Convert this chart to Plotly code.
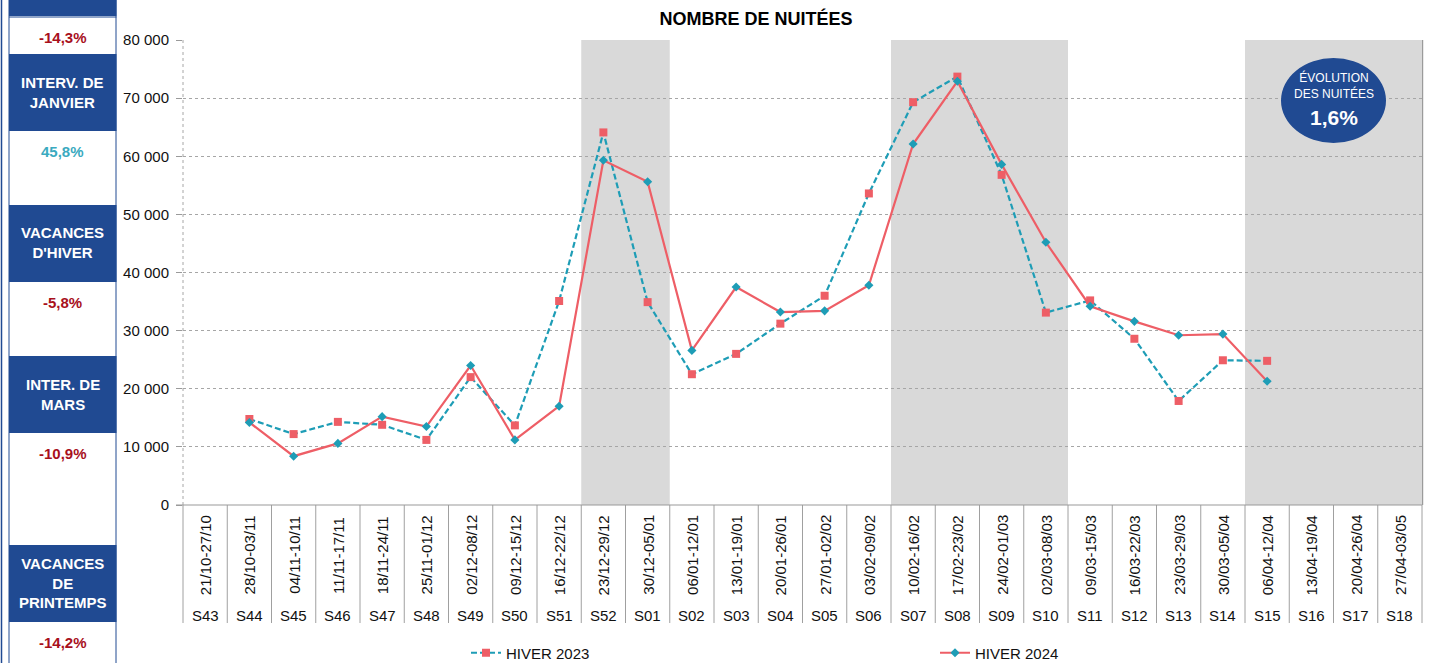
import plotly.graph_objects as go

# ---------------- data ----------------
weeks = ['S43', 'S44', 'S45', 'S46', 'S47', 'S48', 'S49', 'S50', 'S51', 'S52',
         'S01', 'S02', 'S03', 'S04', 'S05', 'S06', 'S07', 'S08', 'S09', 'S10',
         'S11', 'S12', 'S13', 'S14', 'S15', 'S16', 'S17', 'S18']
dates = ['21/10-27/10', '28/10-03/11', '04/11-10/11', '11/11-17/11', '18/11-24/11',
         '25/11-01/12', '02/12-08/12', '09/12-15/12', '16/12-22/12', '23/12-29/12',
         '30/12-05/01', '06/01-12/01', '13/01-19/01', '20/01-26/01', '27/01-02/02',
         '03/02-09/02', '10/02-16/02', '17/02-23/02', '24/02-01/03', '02/03-08/03',
         '09/03-15/03', '16/03-22/03', '23/03-29/03', '30/03-05/04', '06/04-12/04',
         '13/04-19/04', '20/04-26/04', '27/04-03/05']
hiver_2023 = [None, 14800, 12200, 14300, 13800, 11200, 22000, 13700, 35100, 64100,
              34900, 22500, 26000, 31200, 36000, 53600, 69300, 73700, 56800, 33100,
              35200, 28600, 17900, 24900, 24800, None, None, None]
hiver_2024 = [None, 14200, 8400, 10600, 15200, 13500, 24000, 11200, 17000, 59300,
              55600, 26600, 37500, 33200, 33400, 37800, 62100, 72900, 58600, 45200,
              34200, 31600, 29200, 29400, 21300, None, None, None]
series_names = ['HIVER 2023', 'HIVER 2024']
y_ticks = [0, 10000, 20000, 30000, 40000, 50000, 60000, 70000, 80000]

# shaded holiday periods (first week, last week)
holiday_spans = [('S52', 'S01'), ('S07', 'S10'), ('S15', 'S18')]

# left side panel
period_labels = ["INTERV. DE<br>JANVIER", "VACANCES<br>D'HIVER", "INTER. DE<br>MARS",
                 "VACANCES<br>DE<br>PRINTEMPS"]
period_changes = ['-14,3%', '45,8%', '-5,8%', '-10,9%', '-14,2%']
evolution_total = '1,6%'

# ---------------- styling ----------------
RED = '#EE5E66'
TEAL = '#1E9DB6'
BLUE = '#204A92'
DARKRED = '#A8101C'
PCT_TEAL = '#3AAAC0'
GRID = '#A6A6A6'
BAND = '#D9D9D9'
FONT = 'Liberation Sans, Arial, sans-serif'

W, H = 1434, 663
L, R, T, B = 183, 1422, 40, 505


def px(x):
    return (x - L) / (R - L)


def py(y):
    return (B - y) / (B - T)


fig = go.Figure()

fig.add_trace(go.Scatter(
    x=weeks, y=hiver_2023, name=series_names[0], mode='lines+markers',
    line=dict(color=TEAL, width=2.2, dash='6px,3px'),
    marker=dict(symbol='square', size=8, color=RED),
    legend='legend', connectgaps=False))
fig.add_trace(go.Scatter(
    x=weeks, y=hiver_2024, name=series_names[1], mode='lines+markers',
    line=dict(color=RED, width=2.2),
    marker=dict(symbol='diamond', size=7, color=TEAL),
    legend='legend2', connectgaps=False))

shapes = []
# holiday bands
for a, b in holiday_spans:
    i0, i1 = weeks.index(a), weeks.index(b)
    shapes.append(dict(type='rect', xref='x', yref='paper', x0=i0 - 0.5, x1=i1 + 0.5,
                       y0=0, y1=1, fillcolor=BAND, line=dict(width=0), layer='between'))
# left dotted border & right solid border
shapes.append(dict(type='line', xref='paper', yref='paper', x0=0, x1=0, y0=0, y1=1,
                   line=dict(color=GRID, width=1, dash='dot'), layer='above'))
shapes.append(dict(type='line', xref='paper', yref='paper', x0=1.0005, x1=1.0005, y0=0, y1=1,
                   line=dict(color='#9A9A9A', width=1.2), layer='above'))
# category separators below axis
for i in range(len(weeks) + 1):
    shapes.append(dict(type='line', xref='paper', yref='paper',
                       x0=i / len(weeks), x1=i / len(weeks), y0=0, y1=py(623),
                       line=dict(color='#A0A0A0', width=1)))
# bottom axis line extended to the left
shapes.append(dict(type='line', xref='paper', yref='paper', x0=px(176), x1=1, y0=0, y1=0,
                   line=dict(color='#9A9A9A', width=1.2), layer='above'))

# left panel
shapes.append(dict(type='line', xref='paper', yref='paper', x0=px(1.5), x1=px(1.5),
                   y0=py(0), y1=py(663), line=dict(color=BLUE, width=1.5)))
shapes.append(dict(type='rect', xref='paper', yref='paper', x0=px(9), x1=px(116),
                   y0=py(-2), y1=py(665), fillcolor='white', line=dict(color=BLUE, width=1)))
blue_boxes = [(-2, 16), (54, 131), (205, 282), (356, 433), (545, 622)]
for y0, y1 in blue_boxes:
    shapes.append(dict(type='rect', xref='paper', yref='paper', x0=px(9), x1=px(116.5),
                       y0=py(y0), y1=py(y1), fillcolor=BLUE, line=dict(width=0)))
shapes.append(dict(type='line', xref='paper', yref='paper', x0=px(9), x1=px(116.5),
                   y0=py(17), y1=py(17), line=dict(color=BLUE, width=1)))

# evolution ellipse
shapes.append(dict(type='circle', xref='paper', yref='paper', x0=px(1281), x1=px(1386),
                   y0=py(58), y1=py(143), fillcolor=BLUE, line=dict(width=0), layer='above'))

annotations = []
# x category labels
for w, d in zip(weeks, dates):
    annotations.append(dict(x=w, xref='x', y=py(555), yref='paper', text=d, showarrow=False,
                            textangle=-90, xanchor='center', yanchor='middle',
                            font=dict(family=FONT, size=15, color='#111111')))
    annotations.append(dict(x=w, xref='x', y=py(615), yref='paper', text=w, showarrow=False,
                            xanchor='center', yanchor='middle',
                            font=dict(family=FONT, size=15, color='#111111')))

# panel texts
label_centers = [92, 243, 394, 583]
for t, yc in zip(period_labels, label_centers):
    annotations.append(dict(x=px(62.5), y=py(yc), xref='paper', yref='paper', text=t,
                            showarrow=False, xanchor='center', yanchor='middle',
                            font=dict(family=FONT, size=15, color='white', weight='bold')))
change_centers = [37, 151, 302, 453, 642]
for t, yc in zip(period_changes, change_centers):
    col = PCT_TEAL if not t.startswith('-') else DARKRED
    annotations.append(dict(x=px(62.5), y=py(yc), xref='paper', yref='paper', text=t,
                            showarrow=False, xanchor='center', yanchor='middle',
                            font=dict(family=FONT, size=15, color=col, weight='bold')))

# ellipse texts
annotations.append(dict(x=px(1334), y=py(86), xref='paper', yref='paper',
                        text='ÉVOLUTION<br>DES NUITÉES', showarrow=False,
                        xanchor='center', yanchor='middle',
                        font=dict(family=FONT, size=12, color='white')))
annotations.append(dict(x=px(1334), y=py(118), xref='paper', yref='paper',
                        text=evolution_total, showarrow=False,
                        xanchor='center', yanchor='middle',
                        font=dict(family=FONT, size=21, color='white', weight='bold')))

fig.update_layout(
    width=W, height=H,
    margin=dict(l=L, r=W - R, t=T, b=H - B, autoexpand=False),
    paper_bgcolor='white', plot_bgcolor='white',
    separators=', ',
    title=dict(text='NOMBRE DE NUITÉES', x=756 / W, xref='container', xanchor='center',
               y=1 - 19 / H, yref='container', yanchor='middle',
               font=dict(family=FONT, size=18, color='black', weight='bold')),
    xaxis=dict(type='category', categoryorder='array', categoryarray=weeks,
               range=[-0.5, len(weeks) - 0.5], showgrid=False, showticklabels=False,
               ticks='', showline=False, zeroline=False, fixedrange=True,
               automargin=False),
    yaxis=dict(range=[0, 80000], tickvals=y_ticks, tickformat=',d',
               showgrid=True, gridcolor=GRID, gridwidth=1, griddash='dot',
               zeroline=False, showline=False, ticks='outside', ticklen=6,
               tickcolor='#9A9A9A', ticklabelstandoff=4, automargin=False,
               tickfont=dict(family=FONT, size=15, color='#111111')),
    showlegend=True,
    legend=dict(orientation='h', x=px(466), xanchor='left', y=py(653), yanchor='middle',
                font=dict(family=FONT, size=15, color='#111111'), bgcolor='rgba(0,0,0,0)',
                itemwidth=30),
    legend2=dict(orientation='h', x=px(935), xanchor='left', y=py(653), yanchor='middle',
                 font=dict(family=FONT, size=15, color='#111111'), bgcolor='rgba(0,0,0,0)',
                 itemwidth=30),
    shapes=shapes,
    annotations=annotations,
    hovermode=False,
)

fig.write_html('out.html',
               config={'displayModeBar': False},
               post_script="document.body.style.margin='0';"
                           "document.documentElement.style.overflow='hidden';")
